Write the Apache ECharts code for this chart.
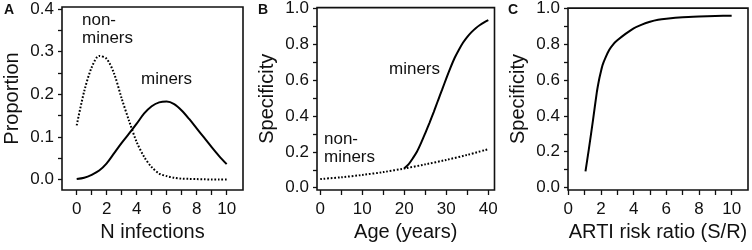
<!DOCTYPE html>
<html>
<head>
<meta charset="utf-8">
<script src="https://cdn.jsdelivr.net/npm/echarts@6/dist/echarts.min.js"></script>
<style>
    html, body { margin: 0; padding: 0; background: #fff; }
    #chart { width: 752px; height: 250px; }
</style>
</head>
<body>
<div id="chart"></div>
<script>
// A: distribution of number of infections
var infectX = [0, 0.5, 1, 1.5, 2, 2.5, 3, 3.5, 4, 4.5, 5, 5.5, 6, 6.5, 7, 7.5, 8, 8.5, 9, 9.5, 10];
var minersA = [0.001, 0.004, 0.011, 0.021, 0.038, 0.062, 0.086, 0.108, 0.131, 0.155, 0.172, 0.181, 0.183, 0.177, 0.162, 0.142, 0.12, 0.098, 0.076, 0.055, 0.036];
var nonMinersA = [0.127, 0.207, 0.263, 0.29, 0.283, 0.248, 0.19, 0.137, 0.088, 0.053, 0.029, 0.014, 0.008, 0.004, 0.002, 0.0015, 0.001, 0.0005, 0, 0, 0];

// B: specificity by age
var ageX = [0, 5, 10, 15, 20, 25, 30, 35, 40];
var nonMinersB = [0.048, 0.058, 0.071, 0.087, 0.107, 0.13, 0.155, 0.183, 0.215];
var minersAgeX = [20, 21, 22, 23, 24, 25, 26, 27, 28, 29, 30, 31, 32, 33, 34, 35, 36, 37, 38, 39, 40];
var minersB = [0.108, 0.13, 0.163, 0.2, 0.25, 0.305, 0.362, 0.422, 0.485, 0.547, 0.61, 0.67, 0.725, 0.77, 0.81, 0.842, 0.868, 0.89, 0.908, 0.923, 0.935];

// C: specificity by ARTI risk ratio
var ratioX = [1.05, 1.25, 1.5, 1.75, 1.9, 2.0, 2.1, 2.25, 2.5, 2.75, 3, 3.5, 4, 4.5, 5, 5.5, 6, 7, 8, 9, 10];
var specC = [0.09, 0.21, 0.37, 0.535, 0.61, 0.65, 0.685, 0.72, 0.768, 0.80, 0.822, 0.858, 0.889, 0.91, 0.926, 0.937, 0.943, 0.951, 0.955, 0.958, 0.96];

// tick labels
var ticksA_x = [0, 2, 4, 6, 8, 10];
var ticksA_y = [0, 0.1, 0.2, 0.3, 0.4];
var ticksB_x = [0, 10, 20, 30, 40];
var ticksC_x = [0, 2, 4, 6, 8, 10];
var ticksSpec_y = [0, 0.2, 0.4, 0.6, 0.8, 1.0];

function pairs(xs, ys) {
    var out = [];
    for (var i = 0; i < xs.length; i++) {
        out.push([xs[i], ys[i]]);
    }
    return out;
}
function range(a, b, step) {
    var out = [];
    for (var v = a; v <= b + 1e-9; v += step) {
        out.push(Math.round(v * 1000) / 1000);
    }
    return out;
}

var FONT = 'Liberation Sans, Arial, sans-serif';
var INK = '#111';

function xAxisOf(idx, name, min, max, labels, ticks, fmt) {
    return {
        type: 'value', gridIndex: idx, min: min, max: max,
        name: name, nameLocation: 'middle', nameGap: 28,
        nameTextStyle: { fontFamily: FONT, fontSize: 20, color: INK },
        axisLine: { show: false, onZero: false },
        axisTick: { show: true, customValues: ticks, length: 5, lineStyle: { color: INK, width: 1.3 } },
        axisLabel: { customValues: labels, margin: 11, fontFamily: FONT, fontSize: 17, color: INK, formatter: fmt },
        splitLine: { show: false }
    };
}
function yAxisOf(idx, name, min, max, labels, ticks) {
    return {
        type: 'value', gridIndex: idx, min: min, max: max,
        name: name, nameLocation: 'middle', nameGap: 40,
        nameTextStyle: { fontFamily: FONT, fontSize: 20, color: INK },
        axisLine: { show: false, onZero: false },
        axisTick: { show: true, customValues: ticks, length: 4, lineStyle: { color: INK, width: 1.3 } },
        axisLabel: {
            customValues: labels, margin: 8, fontFamily: FONT, fontSize: 17, color: INK,
            formatter: function (v) { return v.toFixed(1); }
        },
        splitLine: { show: false }
    };
}
function plainNum(v) { return String(Math.round(v)); }

function lineSeries(xi, data, dotted, smooth) {
    return {
        type: 'line', xAxisIndex: xi, yAxisIndex: xi,
        data: data, showSymbol: false, smooth: smooth, animation: false,
        lineStyle: dotted ? { color: '#000', width: 2, type: [1.7, 1.8] } : { color: '#000', width: 2 }
    };
}
function note(x, y, text, size, bold) {
    return {
        type: 'text', left: x, top: y,
        style: { text: text, fontFamily: FONT, fontSize: size, fontWeight: bold ? 'bold' : 'normal', fill: INK }
    };
}

var chart = echarts.init(document.getElementById('chart'), null, { renderer: 'canvas' });
var option = {
    animation: false,
    grid: [
        { left: 62, top: 7, width: 181, height: 183, show: true, borderColor: INK, borderWidth: 1.6 },
        { left: 317, top: 7, width: 177.5, height: 183, show: true, borderColor: INK, borderWidth: 1.6 },
        { left: 568, top: 7, width: 180, height: 183, show: true, borderColor: INK, borderWidth: 1.6 }
    ],
    xAxis: [
        xAxisOf(0, 'N infections', -0.98, 11.09, ticksA_x, range(0, 10, 1), plainNum),
        xAxisOf(1, 'Age (years)', -0.78, 41.47, ticksB_x, range(0, 40, 5), plainNum),
        xAxisOf(2, 'ARTI risk ratio (S/R)', -0.02, 11.0, ticksC_x, range(0, 10, 1), plainNum)
    ],
    yAxis: [
        yAxisOf(0, 'Proportion', -0.0246, 0.4047, ticksA_y, range(0, 0.4, 0.05)),
        yAxisOf(1, 'Specificity', -0.013, 1.005, ticksSpec_y, range(0, 1, 0.1)),
        yAxisOf(2, 'Specificity', -0.014, 1.002, ticksSpec_y, range(0, 1, 0.1))
    ],
    series: [
        lineSeries(0, pairs(infectX, nonMinersA), true, 0.3),
        lineSeries(0, pairs(infectX, minersA), false, 0.3),
        lineSeries(1, pairs(ageX, nonMinersB), true, 0.3),
        lineSeries(1, pairs(minersAgeX, minersB), false, 0.3),
        lineSeries(2, pairs(ratioX, specC), false, 0.2)
    ],
    graphic: [
        note(4, 3, 'A', 14, true),
        note(258, 3, 'B', 14, true),
        note(508, 3, 'C', 14, true),
        note(82, 12, 'non-', 17),
        note(82, 30, 'miners', 17),
        note(141, 71, 'miners', 17),
        note(389, 61, 'miners', 17),
        note(324, 131, 'non-', 17),
        note(324, 149, 'miners', 17)
    ]
};
chart.setOption(option);
</script>
</body>
</html>
